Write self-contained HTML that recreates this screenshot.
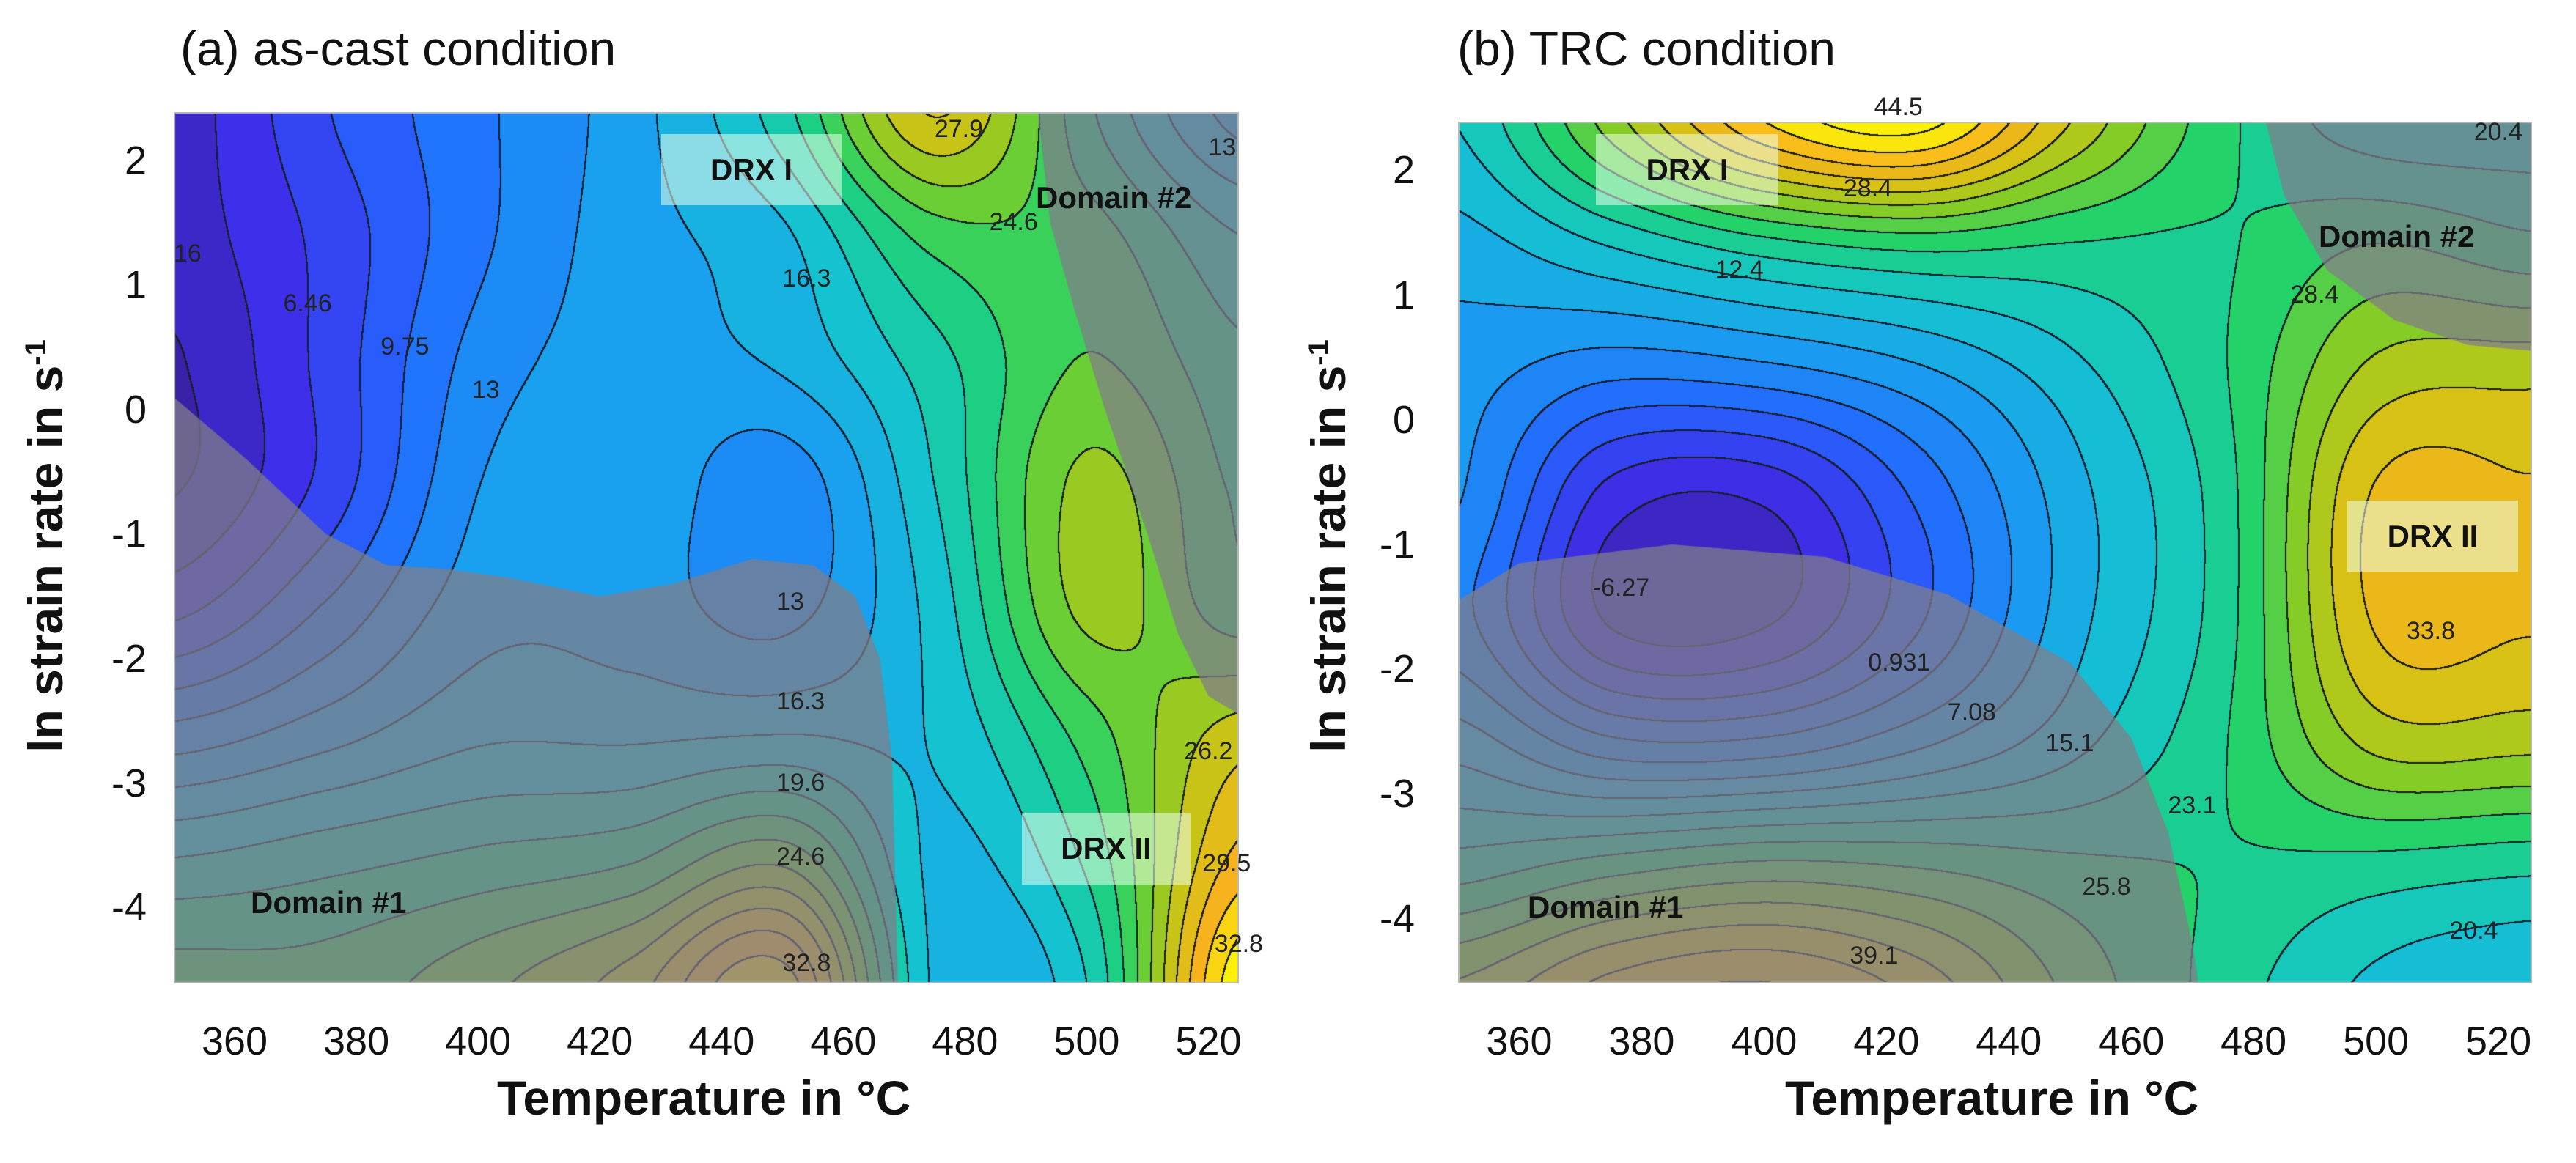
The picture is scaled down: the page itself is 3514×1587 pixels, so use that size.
<!DOCTYPE html>
<html><head><meta charset="utf-8">
<style>
html,body{margin:0;padding:0;background:#fff;}
body{width:3514px;height:1587px;position:relative;overflow:hidden;font-family:"Liberation Sans",Arial,sans-serif;}
.abs{position:absolute;}
.title{font-size:66px;color:#111;white-space:nowrap;}
.tick{font-size:54px;color:#111;white-space:nowrap;}
.axt{font-size:66px;font-weight:bold;color:#111;white-space:nowrap;}
.box{background:rgba(235,255,235,0.55);}
.lab{font-size:42px;font-weight:bold;color:#111;white-space:nowrap;}
.cl{font-size:34px;color:#222;white-space:nowrap;}
canvas{position:absolute;}
</style></head>
<body>
<div class="abs title" style="left:246px;top:28px;">(a) as-cast condition</div>
<div class="abs title" style="left:1988px;top:28px;">(b) TRC condition</div>

<canvas id="cA" width="1453" height="1189" style="left:237px;top:153px;"></canvas>
<canvas id="cB" width="1465" height="1176" style="left:1989px;top:166px;"></canvas>

<div class="abs axt" style="left:678px;top:1460px;">Temperature in °C</div>
<div class="abs axt" style="left:2435px;top:1460px;">Temperature in °C</div>
<div class="abs axt" style="left:62px;top:745px;transform:translate(-50%,-50%) rotate(-90deg);">ln strain rate in s<sup style="font-size:40px">-1</sup></div>
<div class="abs axt" style="left:1812px;top:745px;transform:translate(-50%,-50%) rotate(-90deg);">ln strain rate in s<sup style="font-size:40px">-1</sup></div>

<div id="overlay"></div>

<script>
// ---- data ----
const tempCols = [350, 375, 400, 425, 450, 475, 500, 525];
const rateRows = [2.4, 1.4, 0.4, -0.6, -1.6, -2.6, -3.6, -4.6];
const fieldA = [
 [4, 8, 11, 14, 19, 28, 20, 14],
 [4, 7, 11, 14, 16, 22, 22, 18],
 [3, 7, 12, 14, 15, 19, 23, 20],
 [3, 7, 13, 14.3, 12, 18, 25, 21],
 [6, 10, 14, 14, 12.5, 17, 25, 22],
 [12, 14, 16, 16, 16.3, 16.5, 22, 27],
 [18, 19, 20, 21, 24, 16, 20, 30],
 [22, 22, 24, 27, 32, 16, 18, 34]
];
const fieldB = [
 [18, 30, 42, 46, 34, 24, 19, 19],
 [14, 18, 22, 24, 23, 23, 26, 24],
 [11, 8, 9, 12, 17, 23, 32, 33],
 [10, -2, -3, 5, 14, 22, 37, 37],
 [8, -4, -4, 4, 14, 22, 37, 37],
 [14, 8, 8, 12, 17, 23, 32, 32],
 [22, 25, 27, 26, 24, 23, 22, 21],
 [32, 38, 40, 36, 28, 22, 17, 15]
];
const xTicks = [360, 380, 400, 420, 440, 460, 480, 500, 520];
const yTicks = [2, 1, 0, -1, -2, -3, -4];
const levelsA = {start: 3.17, step: 1.645, min: 2, max: 33};
const levelsB = {start: -6.27, step: 2.68, min: -8, max: 44};
// domain overlays (temp, ln rate)
const domA1 = [[350,0.1],[362,-0.4],[375,-1.0],[385,-1.25],[395,-1.28],[405,-1.35],[420,-1.5],[432,-1.4],[445,-1.2],[455,-1.25],[462,-1.5],[466,-2.0],[468,-2.8],[469,-4.62],[350,-4.62]];
const domA2 = [[492,2.39],[494,1.5],[498,0.8],[503,0.0],[510,-1.0],[515,-1.8],[520,-2.3],[525,-2.45],[525,2.39]];
const domB1 = [[350,-1.45],[360,-1.15],[385,-1.0],[410,-1.1],[430,-1.4],[450,-1.95],[460,-2.55],[466,-3.3],[470,-4.2],[471,-4.52],[350,-4.52]];
const domB2 = [[482,2.39],[485,1.8],[492,1.2],[503,0.8],[515,0.6],[526,0.55],[526,2.39]];
const labelsA = [["16",350,1.25],["6.46",368,0.85],["9.75",384,0.5],["13",399,0.15],["16.3",450,1.05],["24.6",484,1.5],["27.9",475,2.25],["13",520,2.1],["13",449,-1.55],["16.3",449,-2.35],["19.6",449,-3.0],["24.6",449,-3.6],["32.8",450,-4.45],["26.2",516,-2.75],["29.5",519,-3.65],["32.8",521,-4.3]];
const labelsB = [["44.5",418,2.5],["28.4",413,1.85],["12.4",392,1.2],["28.4",486,1.0],["-6.27",372,-1.35],["0.931",417,-1.95],["7.08",430,-2.35],["15.1",446,-2.6],["23.1",466,-3.1],["25.8",452,-3.75],["39.1",414,-4.3],["33.8",505,-1.7],["20.4",512,-4.1],["20.4",516,2.3]];

// ---- geometry ----
const plots = [
 {id:'cA', L:237, T:153, W:1453, H:1189, x0:350, x1:525, y0:2.39, y1:-4.61, field:fieldA, lev:levelsA, doms:[domA1, domA2], labels:labelsA,
  boxes:[["DRX I",902,183,246,97],["DRX II",1394,1109,230,98]], texts:[["Domain #2",1413,246],["Domain #1",342,1208]], tickRight:200, key:'a'},
 {id:'cB', L:1989, T:166, W:1465, H:1176, x0:350, x1:525.5, y0:2.39, y1:-4.52, field:fieldB, lev:levelsB, doms:[domB1, domB2], labels:labelsB,
  boxes:[["DRX I",2177,183,249,97],["DRX II",3202,683,233,97]], texts:[["Domain #2",3163,299],["Domain #1",2084,1214]], tickRight:1930, key:'b'}
];

const cmap = [[0,[58,30,160]],[0.12,[62,48,236]],[0.25,[35,105,255]],[0.38,[25,160,240]],[0.5,[20,198,205]],[0.62,[30,210,110]],[0.72,[125,205,40]],[0.82,[210,195,20]],[0.92,[250,178,30]],[1,[250,240,10]]];
function cm(t){t=Math.max(0,Math.min(1,t));for(let i=1;i<cmap.length;i++){if(t<=cmap[i][0]){const a=cmap[i-1],b=cmap[i];const f=(t-a[0])/(b[0]-a[0]);return [0,1,2].map(k=>a[1][k]+(b[1][k]-a[1][k])*f);}}return cmap[cmap.length-1][1];}
function cr(p0,p1,p2,p3,t){return p1+0.5*t*(p2-p0+t*(2*p0-5*p1+4*p2-p3+t*(3*(p1-p2)+p3-p0)));}
function sample(F,gx,gy){
 const n=F.length-1;gx=Math.max(0,Math.min(n,gx));gy=Math.max(0,Math.min(n,gy));
 const ix=Math.min(n-1,Math.floor(gx)),iy=Math.min(n-1,Math.floor(gy));const tx=gx-ix,ty=gy-iy;
 const g=(r,c)=>F[Math.max(0,Math.min(n,r))][Math.max(0,Math.min(n,c))];
 const rows=[];for(let r=iy-1;r<=iy+2;r++){rows.push(cr(g(r,ix-1),g(r,ix),g(r,ix+1),g(r,ix+2),tx));}
 return cr(rows[0],rows[1],rows[2],rows[3],ty);
}
const ov=document.getElementById('overlay');
plots.forEach(p=>{
 const xs=v=>(v-p.x0)/(p.x1-p.x0)*p.W;
 const ys=v=>(v-p.y0)/(p.y1-p.y0)*p.H;
 const cv=document.getElementById(p.id);const ctx=cv.getContext('2d');
 const img=ctx.createImageData(p.W,p.H);const band=new Int16Array(p.W*p.H);
 const dx=(tempCols[1]-tempCols[0]),dy=(rateRows[1]-rateRows[0]);
 for(let j=0;j<p.H;j++){const yv=p.y0+(p.y1-p.y0)*j/p.H;const gy=(yv-rateRows[0])/dy;
  for(let i=0;i<p.W;i++){const xv=p.x0+(p.x1-p.x0)*i/p.W;const gx=(xv-tempCols[0])/dx;
   const v=sample(p.field,gx,gy);band[j*p.W+i]=Math.floor((v-p.lev.start)/p.lev.step);}}
 for(let j=0;j<p.H;j++)for(let i=0;i<p.W;i++){const k=j*p.W+i;const b=band[k];
  const mid=p.lev.start+(b+0.5)*p.lev.step;const c=cm((mid-p.lev.min)/(p.lev.max-p.lev.min));
  let line=false;for(let a=-1;a<=1&&!line;a++)for(let d=-1;d<=1;d++){const ii=i+a,jj=j+d;if(ii<0||jj<0||ii>=p.W||jj>=p.H)continue;if(band[jj*p.W+ii]!==b){line=true;break;}}
  const o=k*4;if(line){img.data[o]=25;img.data[o+1]=30;img.data[o+2]=45;}else{img.data[o]=c[0];img.data[o+1]=c[1];img.data[o+2]=c[2];}img.data[o+3]=255;}
 ctx.putImageData(img,0,0);
 ctx.fillStyle='rgba(128,126,138,0.74)';
 p.doms.forEach(d=>{ctx.beginPath();d.forEach((pt,i)=>{const X=xs(pt[0]),Y=ys(pt[1]);i?ctx.lineTo(X,Y):ctx.moveTo(X,Y);});ctx.closePath();ctx.fill();});
 ctx.strokeStyle='#bbb';ctx.lineWidth=4;ctx.strokeRect(0,0,p.W,p.H);
 xTicks.forEach(t=>{const e=document.createElement('div');e.className='abs tick';e.textContent=t;
  
  
  e.style.left=(p.L+xs(t))+'px';e.style.top='1390px';e.style.transform='translateX(-50%)';ov.appendChild(e);});
 yTicks.forEach(t=>{const e=document.createElement('div');e.className='abs tick';e.textContent=t;
  
  
  e.style.right=(3514-p.tickRight)+'px';e.style.top=(p.T+ys(t)-31)+'px';ov.appendChild(e);});
 p.labels.forEach(l=>{const e=document.createElement('div');e.className='abs cl';e.textContent=l[0];
  
  
  e.style.left=(p.L+xs(l[1]))+'px';e.style.top=(p.T+ys(l[2])-20)+'px';ov.appendChild(e);});
 p.boxes.forEach(b=>{const e=document.createElement('div');e.className='abs box';
  
  
  e.style.left=b[1]+'px';e.style.top=b[2]+'px';e.style.width=b[3]+'px';e.style.height=b[4]+'px';
  const t=document.createElement('div');t.className='lab';t.textContent=b[0];t.style.textAlign='center';t.style.lineHeight=b[4]+'px';
  
  
  e.appendChild(t);ov.appendChild(e);});
 p.texts.forEach(b=>{const e=document.createElement('div');e.className='abs lab';e.textContent=b[0];
  
  
  e.style.left=b[1]+'px';e.style.top=b[2]+'px';ov.appendChild(e);});
});
</script>
</body></html>
